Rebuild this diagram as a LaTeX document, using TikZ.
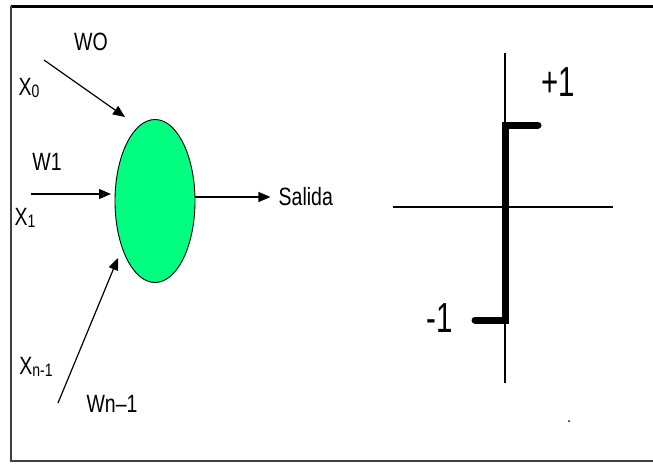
\documentclass[tikz,border=0pt]{standalone}
\usepackage{fontspec}
\setmainfont{Liberation Sans}
\newfontfamily\lblfont[FakeStretch=0.78]{Liberation Sans}
\newfontfamily\bigfont[FakeStretch=0.7]{Liberation Sans}
\usetikzlibrary{arrows.meta,positioning,shapes.geometric}
\definecolor{neurongreen}{RGB}{0,255,128}
\newcommand{\lowsub}[1]{\raisebox{-2pt}{\fontsize{18}{18}\selectfont #1}}

\begin{document}
\begin{tikzpicture}[
  x=1pt, y=-1pt,
  font=\lblfont\fontsize{25}{28}\selectfont,
  lbl/.style={inner sep=0pt, anchor=center},
  big/.style={inner sep=0pt, font=\bigfont\fontsize{42}{44}\selectfont},
  neuronstyle/.style={draw=black, ellipse, fill=neurongreen, minimum width=80pt,
              minimum height=163pt, inner sep=0pt, line width=0.9pt},
  arrow/.style={-{Triangle[length=12pt,width=10pt]}, line width=1.2pt},
  axis/.style={line width=1.2pt},
  stepline/.style={line width=7pt, line cap=round, line join=miter},
]
  \useasboundingbox (0,0) rectangle (653,464);
  \draw[line width=3pt] (11,6) -- (653,6);
  \draw[line width=1.5pt, black!75] (11,6) -- (11,461) -- (653,461);

  \node[neuronstyle] (neuron) at (155,201) {};
  \node[lbl] (w0) at (91,42) {WO};
  \node[lbl] (x0) at (29,88) {X\lowsub{0}};
  \node[lbl] (w1) at (47,162) {W1};
  \node[lbl] (x1) at (25,218) {X\lowsub{1}};
  \node[lbl] (xn) at (36,367) {X\lowsub{n-1}};
  \node[lbl] (wn) at (112,404) {Wn\textendash1};
  \node[lbl, right=83pt of neuron, yshift=4pt] (salida) {Salida};

  \coordinate (x0tail) at (44,60);
  \coordinate (x0tip) at (125,117);
  \coordinate (x1tail) at (31,194);
  \coordinate (x1tip) at (111,194);
  \coordinate (xntail) at (58,403);
  \coordinate (xntip) at (118,258);

  \draw[arrow] (x0tail) -- (x0tip);
  \draw[arrow] (x1tail) -- (x1tip);
  \draw[arrow] (xntail) -- (xntip);
  \draw[arrow, shorten >=8pt] (salida -| neuron.east) -- (salida.west);

  \draw[axis] (505,53) -- (505,383);
  \draw[axis] (393,207) -- (613,207);
  \draw[stepline] (475,320) -- (505,320) -- (505,125) -- (538,125);
  \node[big] (plus) at (558,82) {+1};
  \node[big] (minus) at (440,318) {-1};
  \fill (569,421) circle (1pt);
\end{tikzpicture}
\end{document}
